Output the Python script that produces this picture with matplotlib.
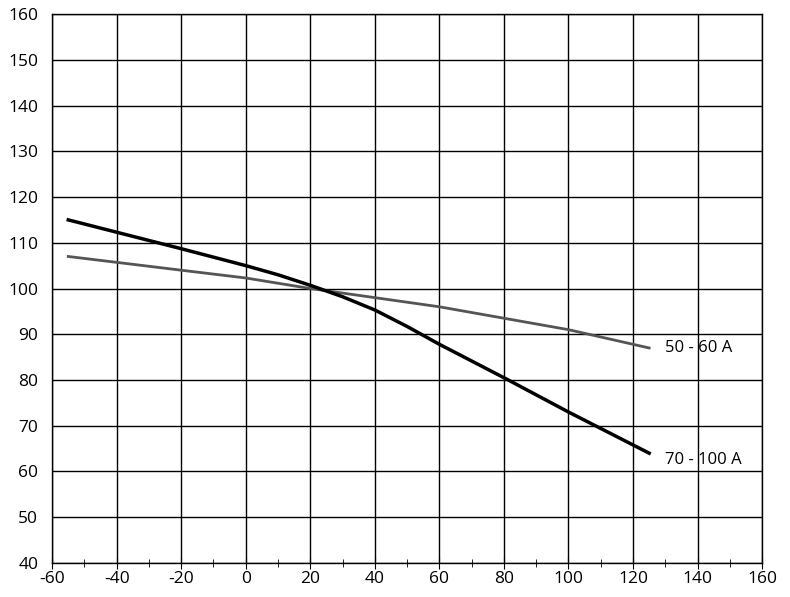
import matplotlib
matplotlib.use("Agg")
import matplotlib.pyplot as plt
from matplotlib.ticker import MultipleLocator

temp_black = [-55, -40, -20, 0, 10, 20, 30, 40, 50, 60, 80, 100, 125]
val_black = [115, 112.3, 108.7, 105, 103, 100.7, 98.2, 95.3, 91.7, 87.8, 80.5, 73, 64]
temp_grey = [-55, -20, 0, 20, 40, 60, 80, 100, 125]
val_grey = [107, 104, 102.3, 100, 98, 96, 93.5, 91, 87]
labels = ["50 - 60 A", "70 - 100 A"]

plt.rcParams['font.family'] = ['Open Sans', 'DejaVu Sans']
plt.rcParams['axes.unicode_minus'] = False
fig = plt.figure(figsize=(7.9, 5.97), dpi=100)
ax = fig.add_axes([0.066, 0.057, 0.8987, 0.9195])
ax.plot(temp_grey, val_grey, color='#555555', lw=2)
ax.plot(temp_black, val_black, color='black', lw=2.5)
ax.text(130, 87, labels[0], fontsize=12, va='center')
ax.text(130, 62.5, labels[1], fontsize=12, va='center')
ax.set_xlim(-60, 160)
ax.set_ylim(40, 160)
ax.xaxis.set_major_locator(MultipleLocator(20))
ax.xaxis.set_minor_locator(MultipleLocator(10))
ax.yaxis.set_major_locator(MultipleLocator(10))
ax.grid(True, which='major', color='black', lw=1)
ax.tick_params(axis='x', which='major', direction='inout', length=8, labelsize=12.5, pad=2)
ax.tick_params(axis='x', which='minor', direction='inout', length=6)
ax.tick_params(axis='y', length=0, labelsize=12.5, pad=10)
for s in ax.spines.values():
    s.set_linewidth(1)
fig.savefig("out.png", dpi=100)
